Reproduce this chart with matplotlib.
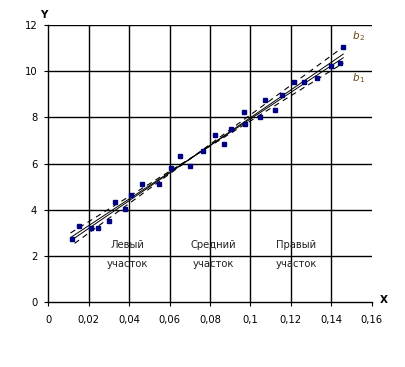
import matplotlib
matplotlib.use("Agg")
import matplotlib.pyplot as plt
import numpy as np

# data points
x_pts = [0.0119, 0.0154, 0.0211, 0.0248, 0.0299, 0.0332, 0.0381, 0.0409, 0.0465,
         0.0548, 0.0607, 0.0650, 0.0701, 0.0768, 0.0825, 0.0868, 0.0902, 0.0967,
         0.0972, 0.1050, 0.1075, 0.1120, 0.1155, 0.1218, 0.1267, 0.1332, 0.1401,
         0.1445, 0.1458]
y_pts = [2.73, 3.30, 3.20, 3.20, 3.52, 4.33, 4.03, 4.66, 5.11,
         5.11, 5.80, 6.33, 5.91, 6.54, 7.23, 6.84, 7.52, 8.22,
         7.71, 8.02, 8.74, 8.30, 8.99, 9.52, 9.52, 9.72, 10.21,
         10.34, 11.03]

# lines: endpoints (x, y)
b2_x = [0.013, 0.146]
b2_y = [2.55, 11.05]
b1_x = [0.011, 0.146]
b1_y = [3.00, 10.35]
fit1_x = [0.011, 0.146]
fit1_y = [2.80, 10.58]
fit2_x = [0.011, 0.146]
fit2_y = [2.66, 10.74]

x_ticks = [0, 0.02, 0.04, 0.06, 0.08, 0.1, 0.12, 0.14, 0.16]
x_tick_labels = ["0", "0,02", "0,04", "0,06", "0,08", "0,1", "0,12", "0,14", "0,16"]
y_ticks = [0, 2, 4, 6, 8, 10, 12]
y_tick_labels = ["0", "2", "4", "6", "8", "10", "12"]

region_labels = ["Левый\nучасток", "Средний\nучасток", "Правый\nучасток"]
region_x = [0.039, 0.0815, 0.1226]

fig = plt.figure(figsize=(4.05, 3.67), dpi=100)
ax = fig.add_axes([0.1193, 0.1763, 0.7980, 0.7556])
ax.set_xlim(0, 0.16)
ax.set_ylim(0, 12)

# grid
for xv in x_ticks[1:-1]:
    ax.plot([xv, xv], [0, 12], color="black", lw=1.0, zorder=1)
for yv in y_ticks[1:]:
    ax.plot([0, 0.16], [yv, yv], color="black", lw=1.0, zorder=1)

ax.plot(b2_x, b2_y, color="black", lw=0.8, ls=(0, (5, 4)), zorder=2)
ax.plot(b1_x, b1_y, color="black", lw=0.8, ls=(0, (5, 4)), zorder=2)
ax.plot(fit1_x, fit1_y, color="black", lw=0.7, zorder=2)
ax.plot(fit2_x, fit2_y, color="black", lw=0.7, zorder=2)

ax.plot(x_pts, y_pts, ls="none", marker="s", ms=2.5, color="#000080", zorder=3)

for lab, xv in zip(region_labels, region_x):
    ax.text(xv, 2.07, lab, ha="center", va="center", fontsize=7.2,
            linespacing=2.2, color="#222222")

ax.text(0.1505, 11.5, r"$b_{\,2}$", fontsize=7.5, color="#6b4a10",
        ha="left", va="center", family="DejaVu Serif", style="italic")
ax.text(0.1505, 9.7, r"$b_{\,1}$", fontsize=7.5, color="#6b4a10",
        ha="left", va="center", family="DejaVu Serif", style="italic")

ax.text(0.1662, 0.1, "X", fontsize=7.5, fontweight="bold", ha="center", va="center",
        clip_on=False)
ax.text(-0.0022, 12.45, "Y", fontsize=7.5, fontweight="bold", ha="center", va="center",
        clip_on=False)

ax.set_xticks(x_ticks)
ax.set_xticklabels(x_tick_labels, fontsize=7.2)
ax.set_yticks(y_ticks)
ax.set_yticklabels(y_tick_labels, fontsize=7.2)
ax.tick_params(direction="out", length=3, width=0.8, colors="black")
ax.tick_params(axis="x", pad=6)
ax.tick_params(axis="y", pad=5)
for s in ["top", "right"]:
    ax.spines[s].set_visible(False)
for s in ["left", "bottom"]:
    ax.spines[s].set_linewidth(1.0)

fig.savefig("out.png", dpi=100)
